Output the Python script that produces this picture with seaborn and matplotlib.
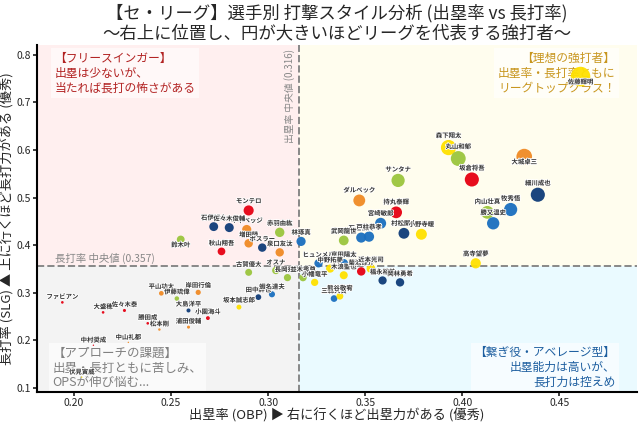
import matplotlib
matplotlib.use("Agg")
import matplotlib.pyplot as plt
import matplotlib.patheffects as pe
import pandas as pd
import seaborn as sns

# --- data ---
players = ["佐藤輝明", "森下翔太", "丸山和郁", "大城卓三", "坂倉将吾", "細川成也", "牧秀悟", "内山壮真",
           "勝又温史", "村松開人", "小野寺暖", "サンタナ", "ダルベック", "持丸泰輝", "宮崎敏郎", "石上泰輝",
           "戸柱恭孝", "武岡龍世", "林琢真", "モンテロ", "キャベッジ", "石伊雄太", "佐々木俊輔", "赤羽由紘",
           "鈴木叶", "秋山翔吾", "増田陸", "ボスラー", "泉口友汰", "古賀優大", "オスナ", "長岡秀樹",
           "並木秀尊", "小幡竜平", "岸田行倫", "田中幹也", "蝦名達夫", "坂本誠志郎", "大島洋平", "小園海斗",
           "浦田俊輔", "ファビアン", "大盛穂", "佐々木泰", "平山功太", "伊藤琉偉", "勝田成", "松本剛",
           "中村奨成", "中山礼都", "伏見寅威", "ヒュンメル", "京田陽太", "中野拓夢", "木浪聖也", "菊池涼介",
           "近本光司", "福永裕基", "岡林勇希", "三森大貴", "熊谷敬宥", "高寺望夢"]
teams = ["阪神", "阪神", "ヤクルト", "巨人", "広島", "中日", "DeNA", "ヤクルト",
         "DeNA", "中日", "阪神", "ヤクルト", "巨人", "広島", "DeNA", "DeNA",
         "DeNA", "ヤクルト", "DeNA", "広島", "巨人", "中日", "中日", "ヤクルト",
         "ヤクルト", "広島", "巨人", "中日", "巨人", "ヤクルト", "ヤクルト", "ヤクルト",
         "ヤクルト", "阪神", "巨人", "中日", "DeNA", "阪神", "中日", "広島",
         "巨人", "広島", "広島", "広島", "巨人", "ヤクルト", "広島", "巨人",
         "広島", "巨人", "阪神", "DeNA", "DeNA", "阪神", "阪神", "広島",
         "阪神", "中日", "中日", "DeNA", "阪神", "阪神"]
obp = [0.461, 0.393, 0.398, 0.432, 0.405, 0.439, 0.425, 0.413,
       0.416, 0.370, 0.379, 0.367, 0.347, 0.366, 0.358, 0.348,
       0.352, 0.339, 0.317, 0.290, 0.289, 0.272, 0.280, 0.306,
       0.255, 0.276, 0.290, 0.297, 0.306, 0.290, 0.304, 0.310,
       0.318, 0.324, 0.264, 0.295, 0.302, 0.285, 0.259, 0.269,
       0.259, 0.194, 0.215, 0.226, 0.245, 0.253, 0.238, 0.244,
       0.210, 0.228, 0.204, 0.326, 0.339, 0.332, 0.339, 0.348,
       0.353, 0.359, 0.368, 0.334, 0.337, 0.407]
slg = [0.754, 0.605, 0.582, 0.586, 0.538, 0.506, 0.475, 0.469,
       0.446, 0.425, 0.423, 0.536, 0.494, 0.469, 0.446, 0.416,
       0.418, 0.410, 0.408, 0.473, 0.433, 0.439, 0.437, 0.427,
       0.412, 0.387, 0.404, 0.395, 0.385, 0.343, 0.347, 0.332,
       0.332, 0.322, 0.301, 0.291, 0.297, 0.270, 0.263, 0.247,
       0.228, 0.280, 0.259, 0.263, 0.299, 0.288, 0.236, 0.223,
       0.190, 0.196, 0.123, 0.362, 0.362, 0.351, 0.337, 0.345,
       0.351, 0.326, 0.322, 0.288, 0.293, 0.362]
below_labels = ["佐藤輝明", "大城卓三", "鈴木叶"]

team_colors = {"巨人": "#F08A24", "阪神": "#FFE100", "広島": "#E60012",
               "ヤクルト": "#9BC53D", "DeNA": "#1A6FBF", "中日": "#0F3C78"}

obp_med = 0.316
slg_med = 0.357

df = pd.DataFrame({"player": players, "team": teams, "obp": obp, "slg": slg})
df["ops"] = df["obp"] + df["slg"]
df["weight"] = (df["ops"] - 0.42).clip(lower=0.005) ** 1.6

sns.set_theme(style="white")
plt.rcParams["font.family"] = ["Noto Sans CJK JP", "DejaVu Sans"]

fig, ax = plt.subplots(figsize=(6.4, 4.26), dpi=100)
fig.subplots_adjust(left=0.058, right=0.995, bottom=0.08, top=0.894)

x0, x1 = 0.181, 0.49
y0, y1 = 0.092, 0.82
ax.set_xlim(x0, x1)
ax.set_ylim(y0, y1)

# quadrant backgrounds
ax.fill_between([x0, obp_med], slg_med, y1, color="#FFEFEF", zorder=0, lw=0)
ax.fill_between([obp_med, x1], slg_med, y1, color="#FFFDEE", zorder=0, lw=0)
ax.fill_between([x0, obp_med], y0, slg_med, color="#F3F3F3", zorder=0, lw=0)
ax.fill_between([obp_med, x1], y0, slg_med, color="#EAFAFF", zorder=0, lw=0)

ax.axvline(obp_med, color="#888888", ls="--", lw=1.4, zorder=1)
ax.axhline(slg_med, color="#888888", ls="--", lw=1.4, zorder=1)

box = dict(boxstyle="square,pad=0.3", facecolor="white", alpha=0.6, edgecolor="none")
ax.text(0.190, 0.806, "【フリースインガー】\n出塁は少ないが、\n当たれば長打の怖さがある", fontsize=8.5,
        color="#B22222", ha="left", va="top", linespacing=1.2, bbox=box, zorder=2)
ax.text(0.479, 0.806, "【理想の強打者】\n出塁率・長打率ともに\nリーグトップクラス！", fontsize=8.5,
        color="#C8961E", ha="right", va="top", linespacing=1.2, bbox=box, zorder=2)
ax.text(0.189, 0.098, "【アプローチの課題】\n出塁・長打ともに苦しみ、\nOPSが伸び悩む...", fontsize=9,
        color="#808080", ha="left", va="bottom", linespacing=1.15, bbox=box, zorder=2)
ax.text(0.479, 0.098, "【繋ぎ役・アベレージ型】\n出塁能力は高いが、\n長打力は控えめ", fontsize=8.5,
        color="#1E5FA0", ha="right", va="bottom", linespacing=1.2, bbox=box, zorder=2)

sns.scatterplot(data=df, x="obp", y="slg", hue="team", palette=team_colors,
                size="weight", sizes=(1, 200), legend=False, linewidth=0,
                alpha=0.95, ax=ax, zorder=3)

wmin, wmax = df["weight"].min(), df["weight"].max()
for _, r in df.iterrows():
    rad = (1 + (r["weight"] - wmin) / (wmax - wmin) * 199) ** 0.5 / 2
    if r["player"] in below_labels:
        off, va = -1, "top"
    else:
        off, va = rad + 1, "bottom"
    ax.annotate(r["player"], (r["obp"], r["slg"]), xytext=(0, off), textcoords="offset points",
                ha="center", va=va, fontsize=4.6, fontweight="bold", color="#333333", zorder=4,
                path_effects=[pe.withStroke(linewidth=1.2, foreground="white")])

ax.text(0.190, slg_med + 0.004, f"長打率 中央値 ({slg_med})", fontsize=7.5, color="#888888",
        va="bottom", ha="left", zorder=2)
ax.text(obp_med - 0.002, 0.812, f"出塁率 中央値 ({obp_med})", fontsize=7, color="#888888",
        rotation=90, va="top", ha="right", zorder=2)

ax.set_xticks([0.20, 0.25, 0.30, 0.35, 0.40, 0.45])
ax.set_xticklabels([f"{v:.2f}" for v in [0.20, 0.25, 0.30, 0.35, 0.40, 0.45]])
ax.set_yticks([0.1, 0.2, 0.3, 0.4, 0.5, 0.6, 0.7, 0.8])
ax.tick_params(labelsize=7.5, length=3, pad=1.5, left=True, bottom=True)
ax.set_xlabel("出塁率 (OBP) ▶ 右に行くほど出塁力がある (優秀)", fontsize=9.5, labelpad=0)
ax.set_ylabel("長打率 (SLG) ▲ 上に行くほど長打力がある (優秀)", fontsize=9.5, labelpad=1)
ax.set_title("【セ・リーグ】選手別 打撃スタイル分析 (出塁率 vs 長打率)\n～右上に位置し、円が大きいほどリーグを代表する強打者～",
             fontsize=12.5, linespacing=1.15, pad=5)

for s in ["top", "right"]:
    ax.spines[s].set_visible(False)
for s in ["left", "bottom"]:
    ax.spines[s].set_color("black")
    ax.spines[s].set_linewidth(1.5)

fig.savefig("out.png", dpi=100)
